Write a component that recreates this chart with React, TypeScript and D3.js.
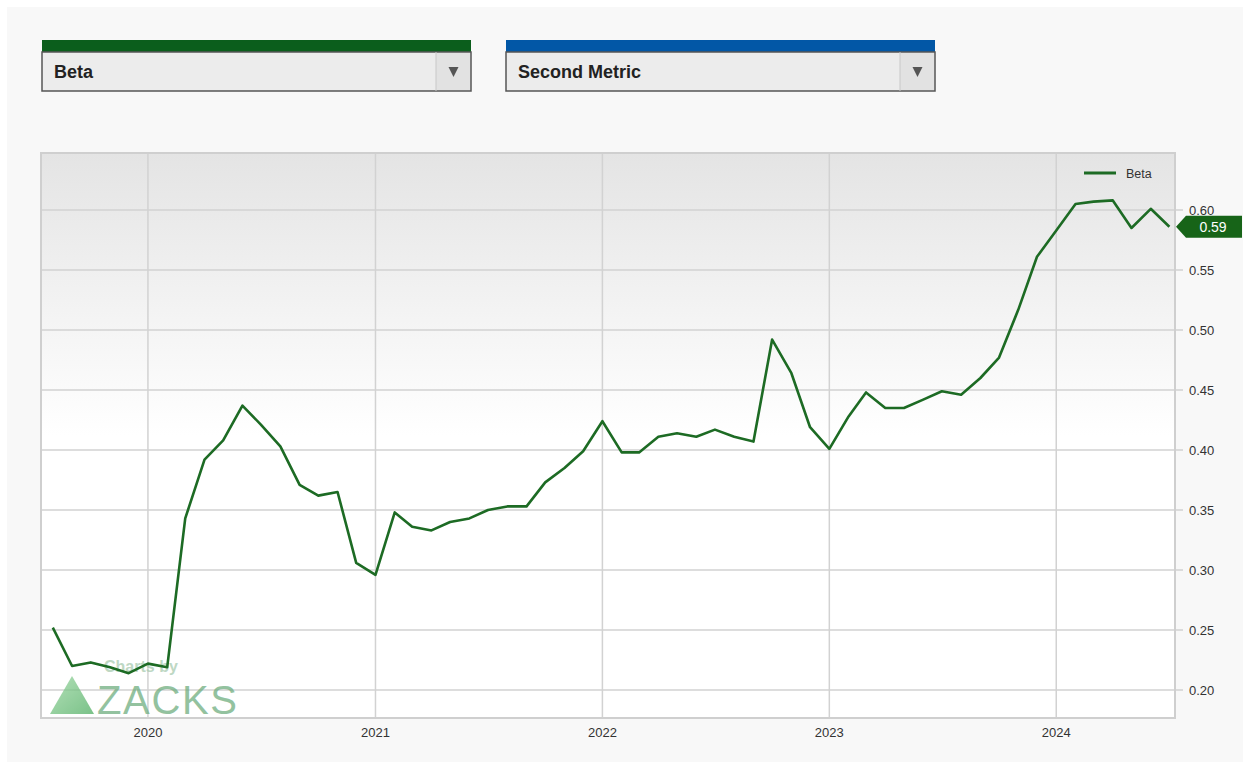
import React from "react";
import * as d3 from "d3";

const startYear = 2019;
const startMonth = 7; // August (0-based)
const betaValues: number[] = [
  0.252, 0.220, 0.223, 0.219, 0.214,
  0.222, 0.219, 0.343, 0.392, 0.408, 0.437, 0.421, 0.403, 0.371, 0.362, 0.365, 0.306,
  0.296, 0.348, 0.336, 0.333, 0.340, 0.343, 0.350, 0.353, 0.353, 0.373, 0.385, 0.399,
  0.424, 0.398, 0.398, 0.411, 0.414, 0.411, 0.417, 0.411, 0.407, 0.492, 0.464, 0.419,
  0.401, 0.428, 0.448, 0.435, 0.435, 0.442, 0.449, 0.446, 0.460, 0.477, 0.517, 0.561,
  0.583, 0.605, 0.607, 0.608, 0.585, 0.601, 0.586,
];
const yTicks: number[] = [0.2, 0.25, 0.3, 0.35, 0.4, 0.45, 0.5, 0.55, 0.6];
const xTickYears: number[] = [2020, 2021, 2022, 2023, 2024];
const seriesName = "Beta";
const lastLabel = "0.59";

const data = betaValues.map((v, i) => ({
  date: new Date(Date.UTC(startYear, startMonth + i, 1)),
  value: v,
}));

const FONT = "Arial, 'Liberation Sans', sans-serif";

export default function App() {
  const left = 41, right = 1175, top = 153, bottom = 718;
  const x = d3
    .scaleUtc()
    .domain([new Date(Date.UTC(2019, 6, 13)), new Date(Date.UTC(2024, 6, 10))])
    .range([left, right]);
  const y = d3.scaleLinear().domain([0.17667, 0.6475]).range([bottom, top]);
  const line = d3
    .line<{ date: Date; value: number }>()
    .x((d) => x(d.date))
    .y((d) => y(d.value));
  const last = data[data.length - 1];
  const ty = y(last.value);

  const dropdown = (x0: number, x1: number, divider: number, color: string, label: string) => (
    <g>
      <rect x={x0} y={40} width={x1 - x0} height={12} fill={color} />
      <rect x={x0} y={52} width={x1 - x0} height={39} fill="#ececec" stroke="#555" strokeWidth={1.5} />
      <rect x={divider} y={53} width={x1 - divider - 1} height={37} fill="#e2e2e2" />
      <line x1={divider} x2={divider} y1={52} y2={91} stroke="#c8c8c8" strokeWidth={1} />
      <text x={x0 + 12} y={78} fontFamily={FONT} fontSize={18} fontWeight="bold" fill="#222">
        {label}
      </text>
      <path
        d={`M${(divider + x1) / 2 - 5},${67} L${(divider + x1) / 2 + 5},${67} L${(divider + x1) / 2},${77} Z`}
        fill="#555"
      />
    </g>
  );

  return (
    <div style={{ position: "absolute", left: 0, top: 0 }}>
      <svg width={1250} height={769} style={{ display: "block" }}>
        <defs>
          <linearGradient id="plotbg" x1="0" y1="0" x2="0" y2="1">
            <stop offset="0" stopColor="#e4e4e4" />
            <stop offset="0.5" stopColor="#ffffff" />
            <stop offset="1" stopColor="#ffffff" />
          </linearGradient>
          <linearGradient id="tri" x1="0" y1="0" x2="1" y2="1">
            <stop offset="0" stopColor="#9ad6a0" />
            <stop offset="1" stopColor="#4fae62" />
          </linearGradient>
        </defs>
        <rect x={0} y={0} width={1250} height={769} fill="#ffffff" />
        <rect x={7} y={7} width={1236} height={755} fill="#f8f8f8" />

        {dropdown(42, 471, 436, "#0b5e1c", "Beta")}
        {dropdown(506, 935, 900, "#0257a6", "Second Metric")}

        {/* plot area */}
        <rect x={left} y={top} width={right - left} height={bottom - top} fill="url(#plotbg)" />

        {/* grid */}
        {yTicks.map((t) => (
          <g key={t}>
            <line x1={left} x2={right + 8} y1={y(t)} y2={y(t)} stroke="#d2d2d2" strokeWidth={1.5} />
            <text x={1189} y={y(t) + 4.5} fontFamily={FONT} fontSize={13} fill="#333">
              {d3.format(".2f")(t)}
            </text>
          </g>
        ))}
        {xTickYears.map((yr) => {
          const xx = x(new Date(Date.UTC(yr, 0, 1)));
          return (
            <g key={yr}>
              <line x1={xx} x2={xx} y1={top} y2={bottom} stroke="#d2d2d2" strokeWidth={1.5} />
              <text x={xx} y={737} textAnchor="middle" fontFamily={FONT} fontSize={13} fill="#333">
                {yr}
              </text>
            </g>
          );
        })}
        <rect
          x={left}
          y={top}
          width={right - left}
          height={bottom - top}
          fill="none"
          stroke="#cfcfcf"
          strokeWidth={2}
        />

        {/* watermark */}
        <g opacity={0.75}>
          <text x={104} y={672} fontFamily={FONT} fontSize={16} fontWeight="bold" fill="#a9cbb0">
            Charts by
          </text>
          <path d="M50,714 L72,676 L94,714 Z" fill="url(#tri)" />
          <text x={97} y={714} fontFamily={FONT} fontSize={40} fill="#6fae80" textLength={140}>
            ZACKS
          </text>
        </g>

        {/* legend */}
        <line x1={1084} x2={1116} y1={173} y2={173} stroke="#1d6b24" strokeWidth={3} />
        <text x={1126} y={177.5} fontFamily={FONT} fontSize={12.5} fill="#333">
          {seriesName}
        </text>

        {/* series */}
        <path d={line(data) || ""} fill="none" stroke="#1d6b24" strokeWidth={2.6} strokeLinejoin="round" />

        {/* last value tag */}
        <path
          d={`M1176,${ty} L1186,${ty - 11} L1242,${ty - 11} L1242,${ty + 11} L1186,${ty + 11} Z`}
          fill="#176418"
        />
        <text x={1213} y={ty + 5} textAnchor="middle" fontFamily={FONT} fontSize={14} fill="#ffffff">
          {lastLabel}
        </text>
      </svg>
    </div>
  );
}
